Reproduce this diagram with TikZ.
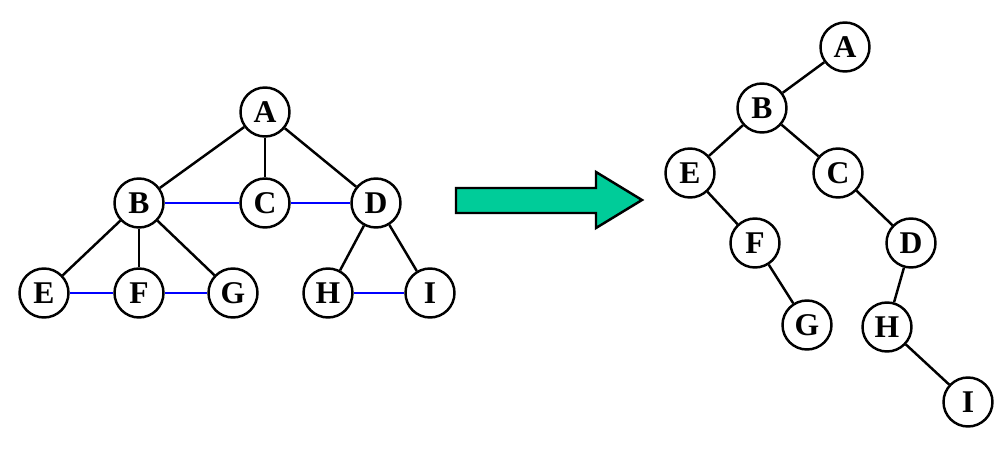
\documentclass[tikz,border=0pt]{standalone}
\usepackage{fontspec}
\setmainfont{Liberation Serif}
\begin{document}
\begin{tikzpicture}[x=0.02cm,y=-0.02cm,
  nd/.style={circle,draw=black,line width=1.4pt,fill=white,minimum size=0.98cm,inner sep=0pt,font=\fontsize{18}{20}\selectfont\bfseries},
  ed/.style={line width=1.4pt,black},
  be/.style={line width=1.4pt,blue}]
\useasboundingbox (0,0) rectangle (1002,449);
\node[nd] (A) at (265,112) {A};
\node[nd] (B) at (139,203) {B};
\node[nd] (C) at (265,203) {C};
\node[nd] (D) at (376,203) {D};
\node[nd] (E) at (44,293) {E};
\node[nd] (F) at (139,293) {F};
\node[nd] (G) at (233,293) {G};
\node[nd] (H) at (328,293) {H};
\node[nd] (I) at (430,293) {I};
\draw[ed] (A)--(B); \draw[ed] (A)--(C); \draw[ed] (A)--(D);
\draw[ed] (B)--(E); \draw[ed] (B)--(F); \draw[ed] (B)--(G);
\draw[ed] (D)--(H); \draw[ed] (D)--(I);
\draw[be] (B)--(C); \draw[be] (C)--(D);
\draw[be] (E)--(F); \draw[be] (F)--(G); \draw[be] (H)--(I);
\path[draw=black,line width=1.4pt,fill={rgb,255:red,0;green,204;blue,153}]
  (456,188)--(596,188)--(596,172)--(642,200)--(596,228)--(596,213)--(456,213)--cycle;
\node[nd] (A2) at (845,47) {A};
\node[nd] (B2) at (762,108) {B};
\node[nd] (E2) at (690,173) {E};
\node[nd] (C2) at (838,173) {C};
\node[nd] (F2) at (755,243) {F};
\node[nd] (D2) at (911,243) {D};
\node[nd] (G2) at (807,325) {G};
\node[nd] (H2) at (887,327) {H};
\node[nd] (I2) at (968,402) {I};
\draw[ed] (A2)--(B2); \draw[ed] (B2)--(E2); \draw[ed] (B2)--(C2);
\draw[ed] (E2)--(F2); \draw[ed] (F2)--(G2); \draw[ed] (C2)--(D2);
\draw[ed] (D2)--(H2); \draw[ed] (H2)--(I2);
\end{tikzpicture}
\end{document}
